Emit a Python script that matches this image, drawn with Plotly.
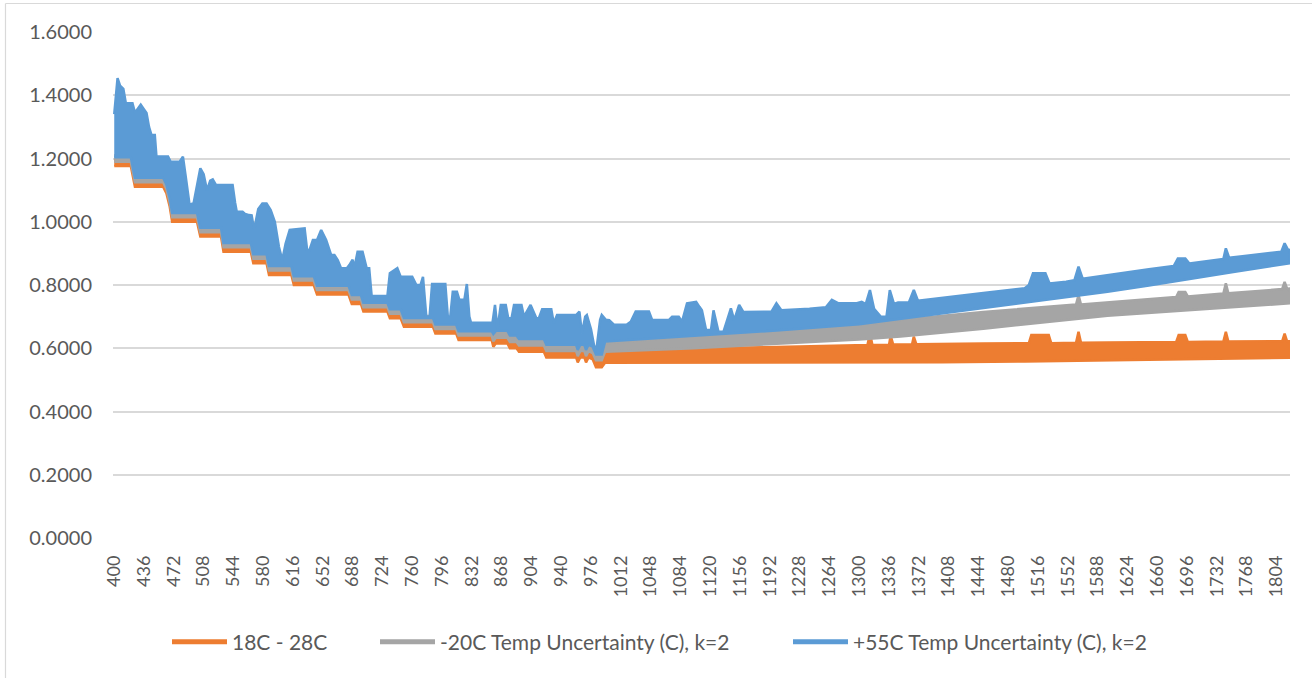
import plotly.graph_objects as go

# ---- data: wavelength (nm) and uncertainty envelopes (upper / lower edge of each noisy trace)

orange_top_nm = [400, 420, 425, 459, 463, 467, 470, 500, 504, 529, 532, 565, 568, 584, 587, 614, 617, 641,
                 645, 683, 687, 698, 701, 730, 733, 746, 750, 785, 788, 813, 816, 856, 858, 861, 875, 878,
                 886, 889, 919, 922, 958, 960, 963, 968, 970, 973, 978, 982, 989, 993, 1050, 1100, 1200,
                 1300, 1310, 1313, 1316, 1336, 1338, 1341, 1364, 1366, 1369, 1450, 1505, 1508, 1529, 1532,
                 1562, 1565, 1568, 1600, 1683, 1686, 1694, 1697, 1740, 1743, 1746, 1811, 1814, 1817, 1820]
orange_top = [1.196, 1.196, 1.131, 1.131, 1.110, 1.068, 1.020, 1.020, 0.973, 0.973, 0.925, 0.925, 0.889,
              0.889, 0.852, 0.852, 0.820, 0.820, 0.790, 0.790, 0.760, 0.760, 0.736, 0.736, 0.715, 0.715,
              0.688, 0.688, 0.667, 0.667, 0.646, 0.646, 0.625, 0.635, 0.635, 0.620, 0.620, 0.609, 0.609,
              0.591, 0.591, 0.575, 0.591, 0.591, 0.575, 0.591, 0.585, 0.560, 0.560, 0.590, 0.595, 0.600,
              0.604, 0.608, 0.610, 0.647, 0.610, 0.610, 0.640, 0.612, 0.613, 0.637, 0.613, 0.615, 0.616,
              0.642, 0.642, 0.616, 0.617, 0.652, 0.617, 0.618, 0.620, 0.642, 0.642, 0.620, 0.621, 0.652,
              0.621, 0.622, 0.646, 0.622, 0.622]

orange_base_nm = [400, 420, 425, 459, 463, 467, 470, 500, 504, 529, 532, 565, 568, 584, 587, 614, 617, 641,
                  645, 683, 687, 698, 701, 730, 733, 746, 750, 785, 788, 813, 816, 856, 858, 861, 875, 878,
                  886, 889, 919, 922, 958, 960, 963, 968, 970, 973, 978, 982, 989, 993, 1100, 1200, 1300,
                  1400, 1500, 1600, 1700, 1820]
orange_base = [1.176, 1.176, 1.111, 1.111, 1.090, 1.048, 1.000, 1.000, 0.953, 0.953, 0.905, 0.905, 0.869,
               0.869, 0.832, 0.832, 0.800, 0.800, 0.770, 0.770, 0.740, 0.740, 0.716, 0.716, 0.695, 0.695,
               0.668, 0.668, 0.647, 0.647, 0.626, 0.626, 0.605, 0.615, 0.615, 0.600, 0.600, 0.589, 0.589,
               0.571, 0.571, 0.555, 0.571, 0.571, 0.555, 0.571, 0.565, 0.540, 0.540, 0.554, 0.554, 0.554,
               0.555, 0.556, 0.558, 0.561, 0.565, 0.570]

gray_top_nm = [400, 420, 425, 459, 463, 467, 470, 500, 504, 529, 532, 565, 568, 584, 587, 614, 617, 641,
               645, 683, 687, 698, 701, 730, 733, 746, 750, 785, 788, 813, 816, 856, 858, 861, 875, 878,
               886, 889, 919, 922, 958, 960, 963, 968, 970, 973, 978, 982, 989, 993, 1100, 1200, 1300,
               1310, 1313, 1316, 1350, 1450, 1562, 1565, 1568, 1600, 1683, 1686, 1694, 1697, 1740, 1743,
               1746, 1811, 1814, 1817, 1820]
gray_top = [1.210, 1.210, 1.145, 1.145, 1.124, 1.082, 1.034, 1.034, 0.987, 0.987, 0.939, 0.939, 0.903,
            0.903, 0.866, 0.866, 0.834, 0.834, 0.804, 0.804, 0.774, 0.774, 0.750, 0.750, 0.729, 0.729,
            0.702, 0.702, 0.681, 0.681, 0.660, 0.660, 0.642, 0.653, 0.653, 0.640, 0.640, 0.629, 0.629,
            0.611, 0.611, 0.595, 0.611, 0.611, 0.595, 0.611, 0.605, 0.582, 0.582, 0.615, 0.640, 0.658,
            0.676, 0.678, 0.710, 0.678, 0.690, 0.715, 0.738, 0.768, 0.738, 0.745, 0.762, 0.778, 0.778,
            0.764, 0.773, 0.805, 0.774, 0.787, 0.810, 0.788, 0.789]

gray_base_nm = [400, 420, 425, 459, 463, 467, 470, 500, 504, 529, 532, 565, 568, 584, 587, 614, 617, 641,
                645, 683, 687, 698, 701, 730, 733, 746, 750, 785, 788, 813, 816, 856, 858, 861, 875, 878,
                886, 889, 919, 922, 958, 960, 963, 968, 970, 973, 978, 982, 989, 993, 1100, 1200, 1300,
                1350, 1450, 1600, 1700, 1820]
gray_base = [1.190, 1.190, 1.125, 1.125, 1.104, 1.062, 1.014, 1.014, 0.967, 0.967, 0.919, 0.919, 0.883,
             0.883, 0.846, 0.846, 0.814, 0.814, 0.784, 0.784, 0.754, 0.754, 0.730, 0.730, 0.709, 0.709,
             0.682, 0.682, 0.661, 0.661, 0.640, 0.640, 0.622, 0.633, 0.633, 0.620, 0.620, 0.609, 0.609,
             0.591, 0.591, 0.575, 0.591, 0.591, 0.575, 0.591, 0.585, 0.562, 0.562, 0.589, 0.600, 0.614,
             0.628, 0.637, 0.662, 0.703, 0.722, 0.742]

blue_top_nm = [400, 402, 404, 407, 411, 414, 422, 425, 429, 432, 436, 439, 442, 445, 449, 451, 465, 468,
               479, 483, 486, 491, 496, 500, 504, 508, 512, 516, 519, 523, 543, 546, 548, 555, 558, 563,
               566, 569, 574, 579, 584, 589, 594, 599, 603, 607, 612, 630, 633, 636, 640, 645, 650, 656,
               662, 666, 670, 674, 681, 684, 688, 690, 694, 700, 705, 708, 711, 730, 733, 742, 746, 760,
               765, 770, 773, 777, 781, 784, 800, 803, 806, 809, 814, 817, 823, 826, 829, 831, 857, 860,
               863, 867, 873, 876, 880, 883, 892, 895, 899, 903, 910, 913, 917, 928, 931, 935, 958, 962,
               965, 969, 971, 976, 980, 983, 987, 989, 994, 998, 1004, 1019, 1024, 1030, 1046, 1050, 1070,
               1074, 1082, 1086, 1092, 1103, 1107, 1110, 1115, 1121, 1124, 1130, 1136, 1145, 1149, 1155,
               1160, 1180, 1194, 1200, 1206, 1240, 1260, 1267, 1275, 1296, 1303, 1308, 1313, 1318, 1321,
               1326, 1333, 1337, 1342, 1347, 1360, 1366, 1371, 1400, 1450, 1500, 1505, 1510, 1525, 1530,
               1550, 1560, 1565, 1570, 1601, 1650, 1680, 1685, 1694, 1699, 1740, 1743, 1747, 1800, 1810,
               1814, 1818, 1820]
blue_top = [1.340, 1.400, 1.454, 1.430, 1.420, 1.375, 1.375, 1.345, 1.360, 1.370, 1.355, 1.344, 1.300,
            1.274, 1.274, 1.206, 1.206, 1.190, 1.190, 1.206, 1.150, 1.053, 1.060, 1.120, 1.169, 1.150,
            1.100, 1.130, 1.134, 1.116, 1.116, 1.060, 1.032, 1.032, 1.025, 1.021, 1.020, 0.975, 1.040,
            1.058, 1.058, 1.037, 1.000, 0.920, 0.879, 0.930, 0.974, 0.979, 0.911, 0.911, 0.942, 0.942,
            0.974, 0.942, 0.895, 0.895, 0.879, 0.853, 0.853, 0.863, 0.880, 0.853, 0.905, 0.905, 0.853,
            0.853, 0.765, 0.765, 0.837, 0.853, 0.826, 0.826, 0.800, 0.800, 0.826, 0.700, 0.700, 0.803,
            0.803, 0.700, 0.700, 0.779, 0.779, 0.753, 0.753, 0.803, 0.700, 0.681, 0.681, 0.737, 0.660,
            0.737, 0.737, 0.695, 0.695, 0.737, 0.737, 0.700, 0.720, 0.737, 0.695, 0.695, 0.723, 0.723,
            0.679, 0.705, 0.705, 0.716, 0.647, 0.700, 0.705, 0.660, 0.605, 0.605, 0.690, 0.705, 0.690,
            0.689, 0.674, 0.674, 0.684, 0.716, 0.716, 0.689, 0.689, 0.700, 0.700, 0.684, 0.742, 0.747,
            0.731, 0.720, 0.658, 0.658, 0.720, 0.652, 0.652, 0.726, 0.689, 0.737, 0.715, 0.716, 0.716,
            0.742, 0.720, 0.725, 0.730, 0.753, 0.742, 0.742, 0.747, 0.740, 0.784, 0.725, 0.716, 0.700,
            0.700, 0.784, 0.740, 0.745, 0.745, 0.784, 0.750, 0.760, 0.775, 0.790, 0.800, 0.837, 0.837,
            0.805, 0.810, 0.815, 0.858, 0.820, 0.832, 0.850, 0.860, 0.884, 0.884, 0.868, 0.882, 0.916,
            0.886, 0.903, 0.905, 0.932, 0.912, 0.911]

blue_base_nm = [400, 420, 425, 459, 463, 467, 470, 500, 504, 529, 532, 565, 568, 584, 587, 614, 617, 641,
                645, 683, 687, 698, 701, 730, 733, 746, 750, 785, 788, 813, 816, 856, 858, 861, 875, 878,
                886, 889, 919, 922, 958, 960, 963, 968, 970, 973, 978, 982, 989, 993, 1100, 1200, 1300,
                1350, 1400, 1450, 1500, 1550, 1600, 1650, 1700, 1750, 1820]
blue_base = [1.204, 1.204, 1.139, 1.139, 1.118, 1.076, 1.028, 1.028, 0.981, 0.981, 0.933, 0.933, 0.897,
             0.897, 0.860, 0.860, 0.828, 0.828, 0.798, 0.798, 0.768, 0.768, 0.744, 0.744, 0.723, 0.723,
             0.696, 0.696, 0.675, 0.675, 0.654, 0.654, 0.645, 0.655, 0.655, 0.640, 0.640, 0.629, 0.629,
             0.611, 0.611, 0.595, 0.611, 0.611, 0.595, 0.611, 0.605, 0.580, 0.580, 0.621, 0.638, 0.656,
             0.676, 0.695, 0.710, 0.727, 0.745, 0.762, 0.779, 0.798, 0.818, 0.840, 0.869]

tick_labels = ["400", "436", "472", "508", "544", "580", "616", "652", "688", "724", "760", "796", "832",
               "868", "904", "940", "976", "1012", "1048", "1084", "1120", "1156", "1192", "1228", "1264",
               "1300", "1336", "1372", "1408", "1444", "1480", "1516", "1552", "1588", "1624", "1660",
               "1696", "1732", "1768", "1804"]

series = [
    ("18C - 28C", "#ED7D31", orange_top_nm, orange_top, orange_base_nm, orange_base),
    ("-20C Temp Uncertainty (C), k=2", "#A5A5A5", gray_top_nm, gray_top, gray_base_nm, gray_base),
    ("+55C Temp Uncertainty (C), k=2", "#5B9BD5", blue_top_nm, blue_top, blue_base_nm, blue_base),
]

FONT = "Lato, 'Open Sans', sans-serif"
TXT = "#595959"
L, R, T, B = 113, 22, 32, 140
W, H = 1312, 678
PW, PH = W - L - R, H - T - B


def px_x(px):
    return (px - L) / PW


def px_y(py):
    return (H - B - py) / PH


fig = go.Figure()

# each noisy trace is drawn as the band between its upper and lower edge
for name, color, tnm, tv, bnm, bv in series:
    fig.add_trace(go.Scatter(
        x=list(tnm) + list(bnm)[::-1],
        y=list(tv) + list(bv)[::-1],
        mode="lines", fill="toself", fillcolor=color,
        line=dict(color=color, width=2.5),
        hoverinfo="skip", showlegend=False,
    ))

# legend keys: one legend box per series, laid out along the bottom
legend_left_px = [167, 375, 788]
legend_ids = ["legend", "legend2", "legend3"]
for (name, color, *_), lid in zip(series, legend_ids):
    fig.add_trace(go.Scatter(
        x=[None], y=[None], mode="lines", name=name, legend=lid,
        line=dict(color=color, width=5),
    ))

tick_vals = [int(t) for t in tick_labels]

legend_common = dict(
    orientation="h", xanchor="left", yanchor="middle", y=px_y(642),
    font=dict(family=FONT, size=21, color=TXT),
    itemwidth=55, bgcolor="rgba(0,0,0,0)", borderwidth=0,
)

fig.update_layout(
    width=W, height=H,
    margin=dict(l=L, r=R, t=T, b=B),
    paper_bgcolor="white", plot_bgcolor="white",
    font=dict(family=FONT, color=TXT, size=20),
    showlegend=True,
    legend=dict(x=px_x(legend_left_px[0]), **legend_common),
    legend2=dict(x=px_x(legend_left_px[1]), **legend_common),
    legend3=dict(x=px_x(legend_left_px[2]), **legend_common),
    xaxis=dict(
        range=[398.5, 1820.5], tickmode="array", tickvals=tick_vals, ticktext=tick_labels,
        tickangle=-90, showgrid=False, zeroline=False, showline=False, ticks="",
        tickfont=dict(family=FONT, size=18, color=TXT), ticklabelstandoff=13,
    ),
    yaxis=dict(
        range=[0, 1.6], dtick=0.2, tick0=0, tickformat=".4f",
        showgrid=True, gridcolor="#D9D9D9", gridwidth=2, zeroline=False, showline=False, ticks="",
        tickfont=dict(family=FONT, size=20, color=TXT), ticklabelstandoff=20,
    ),
    shapes=[
        # chart-area border (top and left edges)
        dict(type="line", xref="paper", yref="paper",
             x0=px_x(5.5), x1=px_x(1312), y0=px_y(3.5), y1=px_y(3.5),
             line=dict(color="#D9D9D9", width=1.2)),
        dict(type="line", xref="paper", yref="paper",
             x0=px_x(5.5), x1=px_x(5.5), y0=px_y(3.5), y1=px_y(678),
             line=dict(color="#D9D9D9", width=1.2)),
    ],
)

fig.write_html("out.html")
